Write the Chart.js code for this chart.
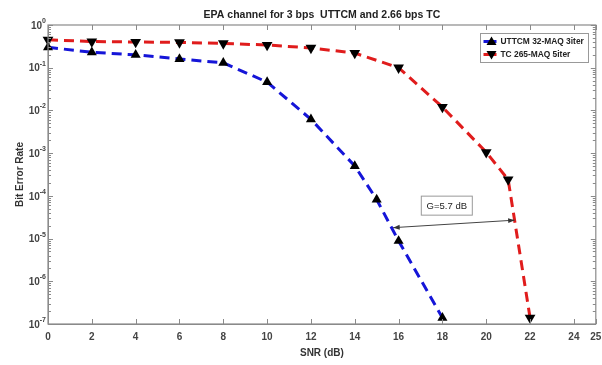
<!DOCTYPE html>
<html>
<head>
<meta charset="utf-8">
<script src="https://cdn.jsdelivr.net/npm/chart.js@4.4.1/dist/chart.umd.min.js"></script>
<style>
  html, body { margin: 0; padding: 0; background: #ffffff; }
  #wrap { width: 602px; height: 365px; position: relative; }
</style>
</head>
<body>
<div id="wrap"><canvas id="c" width="602" height="365"></canvas></div>
<script>
// ---- data ----
const chartTitle = "EPA channel for 3 bps  UTTCM and 2.66 bps TC";
const xTitle = "SNR (dB)";
const yTitle = "Bit Error Rate";

const uttcmLabel = "UTTCM 32-MAQ 3iter";
const uttcmSNR = [0, 2, 4, 6, 8, 10, 12, 14, 15, 16, 18];
const uttcmBER = [0.30, 0.23, 0.20, 0.16, 0.13, 0.046, 0.0062, 0.0005, 0.000082, 0.0000088, 0.00000014];

const tcLabel = "TC 265-MAQ 5iter";
const tcSNR = [0, 2, 4, 6, 8, 10, 12, 14, 16, 18, 20, 21, 22];
const tcBER = [0.45, 0.41, 0.40, 0.39, 0.37, 0.34, 0.29, 0.22, 0.10, 0.012, 0.00105, 0.00024, 0.00000014];

const xTickValues = [0, 2, 4, 6, 8, 10, 12, 14, 16, 18, 20, 22, 24, 25];
const yTickValues = [1, 1e-1, 1e-2, 1e-3, 1e-4, 1e-5, 1e-6, 1e-7];
const yTickBase = "10";
const yTickExponents = ["0", "-1", "-2", "-3", "-4", "-5", "-6", "-7"];

const gainText = "G=5.7 dB";
const gainArrowFrom = [15.75, 1.8e-5];
const gainArrowTo = [21.3, 2.7e-5];
const gainBoxAt = [18.2, 5.9e-5];

const toXY = (xs, ys) => xs.map((x, i) => ({ x: x, y: ys[i] }));

const FONT = "'Liberation Sans', Arial, sans-serif";
const AXIS_COLOR = "#8a8a8a";

const decorPlugin = {
  id: 'decor',
  afterDraw(chart) {
    const ctx = chart.ctx;
    const a = chart.chartArea;
    const xs = chart.scales.x, ys = chart.scales.y;
    ctx.save();
    // frame
    ctx.strokeStyle = AXIS_COLOR;
    ctx.lineWidth = 1.2;
    ctx.strokeRect(a.left, a.top, a.right - a.left, a.bottom - a.top);
    // x ticks inward (bottom & top)
    ctx.lineWidth = 1;
    xTickValues.forEach(v => {
      const px = Math.round(xs.getPixelForValue(v)) + 0.5;
      ctx.beginPath();
      ctx.moveTo(px, a.bottom); ctx.lineTo(px, a.bottom - 5);
      ctx.moveTo(px, a.top); ctx.lineTo(px, a.top + 5);
      ctx.stroke();
    });
    // y ticks inward, major and minor
    for (let e = 0; e >= -7; e--) {
      for (let m = 1; m <= 9; m++) {
        const v = m * Math.pow(10, e - 1);
        if (m === 1) {
          const py = Math.round(ys.getPixelForValue(Math.pow(10, e))) + 0.5;
          ctx.beginPath();
          ctx.moveTo(a.left, py); ctx.lineTo(a.left + 5, py);
          ctx.moveTo(a.right, py); ctx.lineTo(a.right - 5, py);
          ctx.stroke();
        } else if (e > -7) {
          const py = Math.round(ys.getPixelForValue(v)) + 0.5;
          ctx.beginPath();
          ctx.moveTo(a.left, py); ctx.lineTo(a.left + 3, py);
          ctx.moveTo(a.right, py); ctx.lineTo(a.right - 3, py);
          ctx.stroke();
        }
      }
    }
    // y tick labels with superscript exponents
    ctx.fillStyle = "#444";
    ctx.textBaseline = "middle";
    yTickValues.forEach((v, i) => {
      const py = ys.getPixelForValue(v);
      ctx.font = "bold 7px " + FONT;
      const ew = ctx.measureText(yTickExponents[i]).width;
      ctx.textAlign = "left";
      const ex = a.left - 2 - ew;
      ctx.fillText(yTickExponents[i], ex, py - 4);
      ctx.font = "bold 10px " + FONT;
      ctx.textAlign = "right";
      ctx.fillText(yTickBase, ex, py + 1);
    });
    // title
    ctx.fillStyle = "#222";
    ctx.font = "bold 10.5px " + FONT;
    ctx.textAlign = "center";
    ctx.textBaseline = "middle";
    ctx.fillText(chartTitle, (a.left + a.right) / 2, 15);

    // gain annotation: double arrow
    const x1 = xs.getPixelForValue(gainArrowFrom[0]), y1 = ys.getPixelForValue(gainArrowFrom[1]);
    const x2 = xs.getPixelForValue(gainArrowTo[0]), y2 = ys.getPixelForValue(gainArrowTo[1]);
    ctx.strokeStyle = "#444";
    ctx.fillStyle = "#333";
    ctx.lineWidth = 1;
    ctx.beginPath(); ctx.moveTo(x1, y1); ctx.lineTo(x2, y2); ctx.stroke();
    const ang = Math.atan2(y2 - y1, x2 - x1);
    const head = (x, y, an) => {
      ctx.beginPath();
      ctx.moveTo(x, y);
      ctx.lineTo(x - 7 * Math.cos(an - 0.35), y - 7 * Math.sin(an - 0.35));
      ctx.lineTo(x - 7 * Math.cos(an + 0.35), y - 7 * Math.sin(an + 0.35));
      ctx.closePath(); ctx.fill();
    };
    head(x2, y2, ang);
    head(x1, y1, ang + Math.PI);
    // gain box
    const bx = xs.getPixelForValue(gainBoxAt[0]), by = ys.getPixelForValue(gainBoxAt[1]);
    ctx.fillStyle = "#fff";
    ctx.fillRect(bx - 25.5, by - 9.5, 51, 19);
    ctx.strokeStyle = "#999";
    ctx.strokeRect(bx - 25.5, by - 9.5, 51, 19);
    ctx.fillStyle = "#222";
    ctx.font = "9.5px " + FONT;
    ctx.fillText(gainText, bx, by + 0.5);

    // legend
    const lx = 480.5, ly = 33.5, lw = 108, lh = 29;
    ctx.fillStyle = "#fff";
    ctx.fillRect(lx, ly, lw, lh);
    ctx.strokeStyle = "#999";
    ctx.strokeRect(lx, ly, lw, lh);
    const items = [
      { label: uttcmLabel, color: "#1515d8", rot: 0, y: ly + 8 },
      { label: tcLabel, color: "#e01c1c", rot: 180, y: ly + 21 }
    ];
    items.forEach(it => {
      ctx.strokeStyle = it.color;
      ctx.lineWidth = 3;
      ctx.beginPath(); ctx.moveTo(lx + 3, it.y); ctx.lineTo(lx + 16, it.y); ctx.stroke();
      ctx.fillStyle = "#000";
      ctx.beginPath();
      const cx = lx + 11;
      if (it.rot === 0) {
        ctx.moveTo(cx, it.y - 5); ctx.lineTo(cx + 5, it.y + 3.5); ctx.lineTo(cx - 5, it.y + 3.5);
      } else {
        ctx.moveTo(cx, it.y + 5); ctx.lineTo(cx + 5, it.y - 3.5); ctx.lineTo(cx - 5, it.y - 3.5);
      }
      ctx.closePath(); ctx.fill();
      ctx.fillStyle = "#222";
      ctx.font = "bold 8.4px " + FONT;
      ctx.textAlign = "left";
      ctx.fillText(it.label, lx + 20, it.y + 0.5);
    });
    ctx.restore();
  }
};

new Chart(document.getElementById('c'), {
  type: 'line',
  data: {
    datasets: [
      {
        label: uttcmLabel,
        data: toXY(uttcmSNR, uttcmBER),
        borderColor: "#1515d8",
        borderWidth: 3,
        borderDash: [10, 6],
        pointStyle: 'triangle',
        pointRadius: 5.8,
        pointBackgroundColor: "#000",
        pointBorderColor: "#000",
        pointBorderWidth: 0,
        fill: false,
        tension: 0,
        clip: false
      },
      {
        label: tcLabel,
        data: toXY(tcSNR, tcBER),
        borderColor: "#e01c1c",
        borderWidth: 3,
        borderDash: [10, 6],
        pointStyle: 'triangle',
        pointRotation: 180,
        pointRadius: 6.2,
        pointBackgroundColor: "#000",
        pointBorderColor: "#000",
        pointBorderWidth: 0,
        fill: false,
        tension: 0,
        clip: false
      }
    ]
  },
  options: {
    responsive: false,
    animation: false,
    layout: { padding: { top: 25, right: 0, left: 0, bottom: 0 } },
    plugins: {
      legend: { display: false },
      title: { display: false },
      tooltip: { enabled: false }
    },
    scales: {
      x: {
        type: 'linear',
        min: 0, max: 25,
        afterFit(s) { s.height = 41; s.paddingRight = 6; s.paddingLeft = 0; },
        afterBuildTicks(s) { s.ticks = xTickValues.map(v => ({ value: v })); },
        grid: { display: false, drawTicks: false },
        border: { display: true, color: AXIS_COLOR },
        ticks: {
          autoSkip: false, maxRotation: 0, padding: 7,
          color: "#444",
          font: { family: FONT, size: 10, weight: 'bold' },
          callback: (v) => String(v)
        },
        title: {
          display: true, text: xTitle, color: "#333",
          font: { family: FONT, size: 10, weight: 'bold', lineHeight: 1.2 },
          padding: { top: 0, bottom: 6 }
        }
      },
      y: {
        type: 'logarithmic',
        min: 1e-7, max: 1,
        afterFit(s) { s.width = 48; },
        afterBuildTicks(s) { s.ticks = yTickValues.map(v => ({ value: v })); },
        grid: { display: false, drawTicks: false },
        border: { display: true, color: AXIS_COLOR },
        ticks: { display: false },
        title: {
          display: true, text: yTitle, color: "#333",
          font: { family: FONT, size: 10, weight: 'bold', lineHeight: 1.2 },
          padding: { top: 14, bottom: 0 }
        }
      }
    }
  },
  plugins: [decorPlugin]
});
</script>
</body>
</html>
